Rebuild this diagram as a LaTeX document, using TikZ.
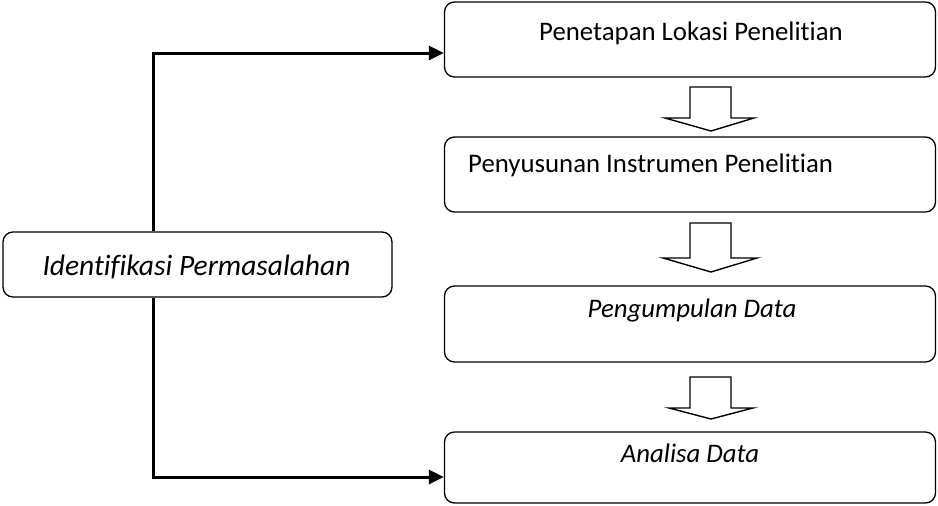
\documentclass[tikz,border=0pt]{standalone}
\usepackage{fontspec}
\setmainfont{Carlito}[Ligatures=NoCommon]
\usetikzlibrary{arrows.meta}
\begin{document}
\begin{tikzpicture}[x=1pt,y=-1pt,
  box/.style={draw=black,line width=1.3pt,rounded corners=10pt,inner sep=0pt},
  txt/.style={font=\fontsize{26.8}{30}\selectfont,inner sep=0pt,anchor=base},
  conn/.style={draw=black,line width=3pt,-{Triangle[length=15pt,width=14pt]}},
  hollow/.style={draw=black,line width=1.4pt,fill=white,line join=miter}]
\useasboundingbox (0,0) rectangle (938,506);
% boxes
\node[box,minimum width=491pt,minimum height=75pt] (b1) at (690,39.5) {};
\node[box,minimum width=491pt,minimum height=75pt] (b2) at (690,174.5) {};
\node[box,minimum width=491pt,minimum height=76pt] (b3) at (690,324) {};
\node[box,minimum width=491pt,minimum height=71pt] (b4) at (690,467.5) {};
\node[box,minimum width=389pt,minimum height=65pt] (lb) at (197.5,264.5) {};
% texts
\node[txt] (t1) at (691,40) {Penetapan Lokasi Penelitian};
\node[txt,anchor=base west] (t2) at (468,172) {Penyusunan Instrumen Penelitian};
\node[txt] (t3) at (692,317) {\itshape Pengumpulan Data};
\node[txt] (t4) at (690,462) {\itshape Analisa Data};
\node[txt,font=\fontsize{29.5}{33}\selectfont] (tl) at (196.5,275) {\itshape Identifikasi Permasalahan};
% connectors
\coordinate (ct) at (153,53);
\coordinate (cb) at (153,477);
\draw[conn] (lb.north -| ct) -- (ct) -- (b1.west |- ct);
\draw[conn] (lb.south -| cb) -- (cb) -- (b4.west |- cb);
% hollow arrows
\draw[hollow] (690,87) -- (731,87) -- (731,118) -- (754,118) -- (711,131) -- (665,118) -- (690,118) -- cycle;
\draw[hollow] (690,223) -- (731,223) -- (731,258) -- (757,258) -- (711,272) -- (663,258) -- (690,258) -- cycle;
\draw[hollow] (690,377) -- (731,377) -- (731,408) -- (753,408) -- (711,419) -- (669,408) -- (690,408) -- cycle;
\end{tikzpicture}
\end{document}
